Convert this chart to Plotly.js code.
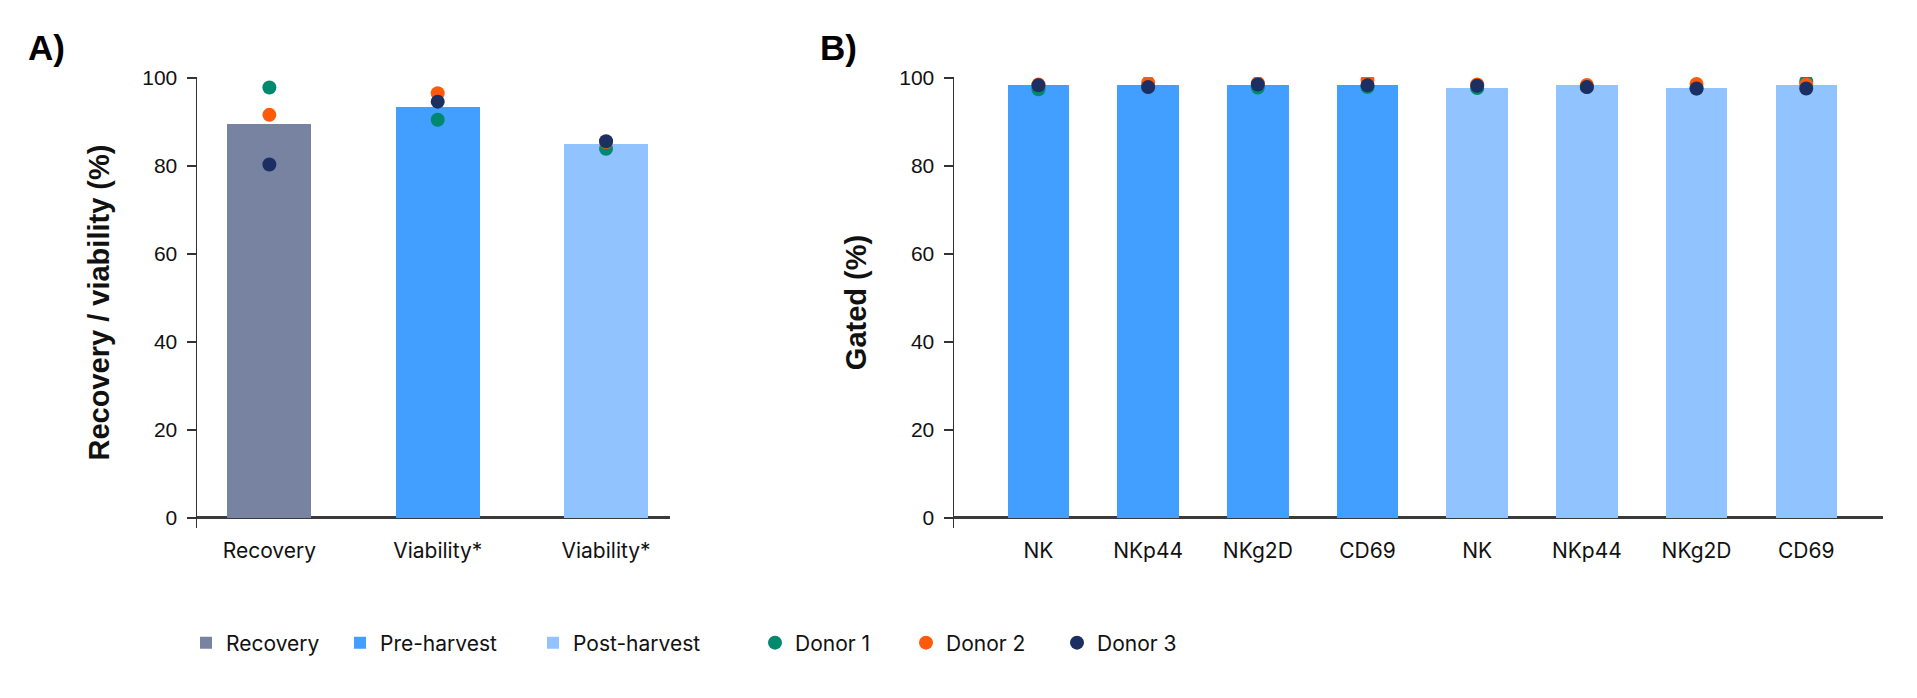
<!DOCTYPE html>
<html>
<head>
<meta charset="utf-8">
<script src="https://cdn.plot.ly/plotly-3.0.1.min.js"></script>
<style>html,body{margin:0;padding:0;background:#fff;}#chart{width:1917px;height:698px;}</style>
</head>
<body>
<div id="chart"></div>
<script>
// Panel A data
const catsA = ["Recovery", "Viability*", "Viability*"];
const barRecoveryA = [89.6];
const barPreA = [93.4];
const barPostA = [85.0];
const donor1A = [97.8, 90.5, 83.9];
const donor2A = [91.6, 96.5, 85.4];
const donor3A = [80.3, 94.6, 85.6];

// Panel B data
const catsB = ["NK", "NKp44", "NKg2D", "CD69", "NK", "NKp44", "NKg2D", "CD69"];
const barPreB = [98.3, 98.3, 98.3, 98.3];
const barPostB = [97.7, 98.3, 97.7, 98.3];
const donor1B = [97.4, 98.0, 97.8, 97.9, 97.7, 97.9, 97.6, 99.2];
const donor2B = [98.5, 98.9, 98.8, 99.5, 98.5, 98.4, 98.6, 98.5];
const donor3B = [98.3, 97.9, 98.5, 98.3, 98.2, 97.9, 97.6, 97.6];

const yTicks = [0, 20, 40, 60, 80, 100];

const C_REC = "#7783A1", C_PRE = "#429EFF", C_POST = "#90C3FF";
const C_D1 = "#00896F", C_D2 = "#FF5A0A", C_D3 = "#1B2F63";

const idxA = catsA.map((_, i) => i);
const idxB = catsB.map((_, i) => i);

const W = 1917, H = 698;
const LABEL_FONT = "Inter, 'Noto Sans', sans-serif";
const NUM_FONT = "'Liberation Sans', Arial, sans-serif";

const traces = [
  {type: "bar", name: "Recovery", x: [idxA[0]], y: barRecoveryA, marker: {color: C_REC}, width: 0.5, xaxis: "x", yaxis: "y", legend: "legend"},
  {type: "bar", name: "Pre-harvest", x: [idxA[1]], y: barPreA, marker: {color: C_PRE}, width: 0.5, xaxis: "x", yaxis: "y", legend: "legend2", legendgroup: "pre"},
  {type: "bar", name: "Post-harvest", x: [idxA[2]], y: barPostA, marker: {color: C_POST}, width: 0.5, xaxis: "x", yaxis: "y", legend: "legend3", legendgroup: "post"},
  {type: "bar", name: "Pre-harvest", x: idxB.slice(0, 4), y: barPreB, marker: {color: C_PRE}, width: 0.56, xaxis: "x2", yaxis: "y2", legendgroup: "pre", showlegend: false},
  {type: "bar", name: "Post-harvest", x: idxB.slice(4), y: barPostB, marker: {color: C_POST}, width: 0.56, xaxis: "x2", yaxis: "y2", legendgroup: "post", showlegend: false},
  {type: "scatter", mode: "markers", name: "Donor 1", x: idxA, y: donor1A, marker: {color: C_D1, size: 14}, xaxis: "x", yaxis: "y", legend: "legend4", legendgroup: "d1"},
  {type: "scatter", mode: "markers", name: "Donor 2", x: idxA, y: donor2A, marker: {color: C_D2, size: 14}, xaxis: "x", yaxis: "y", legend: "legend4", legendgroup: "d2"},
  {type: "scatter", mode: "markers", name: "Donor 3", x: idxA, y: donor3A, marker: {color: C_D3, size: 14}, xaxis: "x", yaxis: "y", legend: "legend4", legendgroup: "d3"},
  {type: "scatter", mode: "markers", name: "Donor 1", x: idxB, y: donor1B, marker: {color: C_D1, size: 14}, xaxis: "x2", yaxis: "y2", legendgroup: "d1", showlegend: false},
  {type: "scatter", mode: "markers", name: "Donor 2", x: idxB, y: donor2B, marker: {color: C_D2, size: 14}, xaxis: "x2", yaxis: "y2", legendgroup: "d2", showlegend: false},
  {type: "scatter", mode: "markers", name: "Donor 3", x: idxB, y: donor3B, marker: {color: C_D3, size: 14}, xaxis: "x2", yaxis: "y2", legendgroup: "d3", showlegend: false}
];

const yAxisCommon = {
  range: [-2.3, 100.2], tickvals: yTicks, ticks: "outside", ticklen: 9, tickwidth: 1.5, tickcolor: "#333",
  showline: true, linecolor: "#333", linewidth: 1.5, showgrid: false,
  zeroline: true, zerolinecolor: "#3a3a3a", zerolinewidth: 3,
  tickfont: {family: NUM_FONT, size: 21, color: "#111"}, ticklabelstandoff: 5, fixedrange: true
};
const xAxisCommon = {
  showline: false, showgrid: false, zeroline: false, ticks: "",
  tickfont: {family: LABEL_FONT, size: 21, color: "#111"},
  ticklabelstandoff: 8, fixedrange: true
};
const legendCommon = {orientation: "h", xanchor: "left", yanchor: "middle", y: 1 - 643 / H,
  font: {family: LABEL_FONT, size: 21, color: "#111"}, traceorder: "normal", itemclick: false, bgcolor: "rgba(0,0,0,0)"};

const layout = {
  width: W, height: H,
  margin: {l: 0, r: 0, t: 0, b: 0},
  paper_bgcolor: "#fff", plot_bgcolor: "#fff",
  font: {family: LABEL_FONT, size: 21, color: "#111"},
  bargap: 0,
  showlegend: true,
  legend: Object.assign({}, legendCommon, {x: 186 / W}),
  legend2: Object.assign({}, legendCommon, {x: 340 / W}),
  legend3: Object.assign({}, legendCommon, {x: 533 / W}),
  legend4: Object.assign({}, legendCommon, {x: 755 / W, entrywidth: 106}),
  xaxis: Object.assign({}, xAxisCommon, {domain: [197 / W, 670 / W], anchor: "y", range: [-0.43, 2.38], tickvals: idxA, ticktext: catsA}),
  yaxis: Object.assign({}, yAxisCommon, {domain: [1 - 528 / H, 1 - 77 / H], anchor: "x",
    title: {text: "<b>Recovery / viability (%)</b>", font: {family: NUM_FONT, size: 29, color: "#111"}, standoff: 24}}),
  xaxis2: Object.assign({}, xAxisCommon, {domain: [954 / W, 1883 / W], anchor: "y2", range: [-0.77, 7.7], tickvals: idxB, ticktext: catsB}),
  yaxis2: Object.assign({}, yAxisCommon, {domain: [1 - 528 / H, 1 - 77 / H], anchor: "x2",
    title: {text: "<b>Gated (%)</b>", font: {family: NUM_FONT, size: 29, color: "#111"}, standoff: 24}}),
  annotations: [
    {text: "<b>A)</b>", xref: "paper", yref: "paper", x: 26 / W, y: 1 - 48 / H, xanchor: "left", yanchor: "middle", showarrow: false, font: {family: NUM_FONT, size: 35, color: "#000"}},
    {text: "<b>B)</b>", xref: "paper", yref: "paper", x: 818 / W, y: 1 - 48 / H, xanchor: "left", yanchor: "middle", showarrow: false, font: {family: NUM_FONT, size: 35, color: "#000"}}
  ]
};

Plotly.newPlot("chart", traces, layout, {displayModeBar: false, staticPlot: true});
</script>
</body>
</html>
